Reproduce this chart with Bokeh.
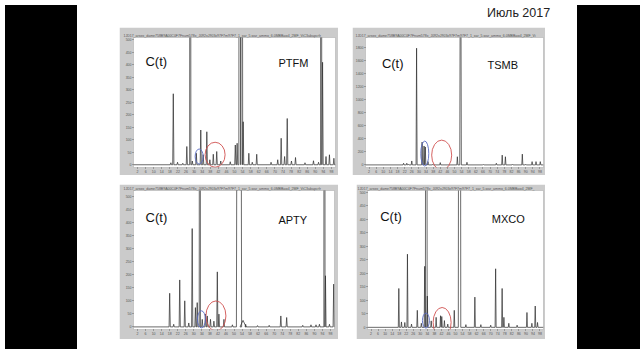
from bokeh.plotting import figure
from bokeh.layouts import row, column
from bokeh.models import Div, Spacer, Label, FixedTicker
from bokeh.embed import file_html
from bokeh.resources import INLINE

OFF = 5000  # off-scale peaks

# ---- PTFM (top left) ----
ptfm_rt = [18.5, 19.7, 21.8, 24.4, 26.4, 28.1, 29.1, 31.1, 33.3, 34.5, 36.3, 37.8, 39.5, 41.2, 43.2,
           47.9, 50.4, 51.3, 52.6, 53.6, 54.3, 57.1, 58.8, 61.0, 68.1, 71.4, 73.1, 74.8, 76.1,
           78.2, 80.2, 84.9, 89.1, 91.6, 92.9, 93.6, 95.3, 97.0, 99.2]
ptfm_h = [8, 284, 10, 6, 73, OFF, 15, 46, 139, 40, 132, 20, 42, 53, 15,
          12, 79, 86, OFF, OFF, 172, 46, 10, 42, 10, 20, 106, 33, 185,
          15, 29, 8, 16, 10, OFF, 410, 33, 40, 26]
ptfm_w = [0.3] * len(ptfm_rt)
ptfm_w[ptfm_rt.index(52.6)] = 0.45
ptfm_w[ptfm_rt.index(53.6)] = 0.45
ptfm_yticks = [0, 50, 100, 150, 200, 250, 300, 350, 400, 450, 500]

# ---- TSMB (top right) ----
tsmb_rt = [21.4, 23.2, 24.1, 26.0, 28.7, 31.8, 32.9, 33.6, 35.1, 37.8, 42.0, 51.6, 53.4,
           57.0, 66.2, 73.5, 76.8, 78.6, 82.6, 88.1, 90.0, 93.6, 95.8, 98.2]
tsmb_h = [25, 25, 10, 60, 1790, 350, 290, 275, 50, 10, 35, 125, OFF,
          40, 8, 25, 150, 125, 10, 165, 10, 50, 50, 50]
tsmb_w = [0.3] * len(tsmb_rt)
tsmb_w[tsmb_rt.index(53.4)] = 0.45
tsmb_yticks = [0, 200, 400, 600, 800, 1000, 1200, 1400, 1600, 1800]

# ---- APTY (bottom left) ----
apty_rt = [18.0, 20.0, 23.0, 25.5, 27.5, 29.2, 30.8, 31.7, 33.0, 34.2, 35.8, 36.7, 38.3, 40.0,
           41.7, 42.5, 45.0, 49.2, 52.5, 54.5, 55.8, 61.7, 67.5, 73.3, 76.2, 84.2, 88.3, 90.8,
           92.5, 95.0, 95.5, 97.5, 99.6]
apty_h = [129, 10, 180, 100, 15, 377, 74, 93, OFF, 29, 49, 42, 29, 22,
          211, 49, 29, 8, OFF, 25, 10, 5, 6, 42, 36, 6, 8, 8,
          10, OFF, 196, 10, 164]
apty_w = [0.3] * len(apty_rt)
apty_w[apty_rt.index(52.5)] = 1.3
apty_w[apty_rt.index(54.5)] = 1.5
apty_yticks = [0, 50, 100, 150, 200, 250, 300, 350, 400, 450, 500]

# ---- MXCO (bottom right) ----
mxco_rt = [17.8, 19.3, 21.2, 22.7, 25.0, 28.3, 30.6, 32.5, 33.4, 34.0, 36.2, 39.0, 41.5, 42.2,
           43.7, 45.6, 49.3, 52.3, 55.9, 61.0, 64.4, 70.0, 72.8, 76.5, 77.5, 80.3, 85.0,
           90.6, 93.4, 95.3, 96.6]
mxco_h = [144, 20, 18, 271, 12, 63, 15, 226, OFF, 116, 24, 37, 43, 40,
          25, 12, 63, OFF, 10, 112, 10, 8, 217, 144, 37, 15, 8,
          55, 15, 79, 18]
mxco_w = [0.3] * len(mxco_rt)
mxco_w[mxco_rt.index(33.4)] = 0.5
mxco_w[mxco_rt.index(52.3)] = 0.7
mxco_yticks = [0, 50, 100, 150, 200, 250, 300, 350, 400, 450, 500]

x_ticks = [2, 6, 10, 14, 18, 22, 26, 30, 34, 38, 42, 46, 50, 54, 58, 62, 66, 70, 74, 78, 82, 86, 90, 94, 98]

# highlighted regions: (x, y, w_px, h_px)
ptfm_red = (40.4, 40, 20, 25)
ptfm_blue = (32.5, 33, 8, 15)
tsmb_red = (42.8, 150, 20, 30)
tsmb_blue = (33.3, 174, 8, 25)
apty_red = (41.0, 42, 20, 30)
apty_blue = (33.8, 29, 8, 17)
mxco_red = (42.4, 18, 18, 30)
mxco_blue = (33.2, 25, 7, 15)

FILE_PATH = "1JD17_arezo_dame758B9A00C0F7Fnum578x_J092xJ903x97F7m97F7_1_xar_5.war_ammo_6.0MBBaw4_2MF_ViC3abapcrfr8c4.Ecaurm1.vol"
FONT = "Liberation Sans"
FRAME = "#cbcbcb"
RED = "#d0504f"
BLUE = "#5a6cc4"


def trace(rt, h, w):
    pts = sorted(zip(rt, h, w))
    xs, ys = [0.0], [0.0]
    for x, hh, ww in pts:
        xs += [x - ww, x, x + ww]
        ys += [0, hh, 0]
    xs.append(100.0)
    ys.append(0.0)
    return xs, ys


def panel(name, rt, h, w, yticks, yr, red, blue, borders, size, lab, nchar):
    bl, br, bt, bb = borders
    p = figure(width=size[0], height=size[1], output_backend="svg", toolbar_location=None,
               x_range=(0, 100), y_range=yr,
               min_border_left=bl, min_border_right=br, min_border_top=bt, min_border_bottom=bb,
               background_fill_color="white", border_fill_color=FRAME,
               outline_line_color="#9a9a9a", outline_line_width=0.5,
               title=FILE_PATH[:nchar])
    p.title.text_font_size = "3.5px"
    p.title.text_font = FONT
    p.title.text_font_style = "normal"
    p.title.text_color = "#555555"
    p.title.standoff = 0
    p.title.offset = -10
    p.grid.visible = False
    for ax in (p.xaxis[0], p.yaxis[0]):
        ax.axis_line_color = None
        ax.major_tick_line_color = "#666666"
        ax.major_tick_out = 1
        ax.major_tick_in = 0
        ax.minor_tick_line_color = None
        ax.major_label_text_font_size = "3.5px"
        ax.major_label_text_font = FONT
        ax.major_label_text_color = "#555555"
        ax.major_label_standoff = 1
    p.xaxis[0].ticker = FixedTicker(ticks=x_ticks)
    p.yaxis[0].ticker = FixedTicker(ticks=yticks)
    xs, ys = trace(rt, h, w)
    p.line(xs, ys, line_color="#2b2b2b", line_width=0.7)
    p.ellipse(x=[red[0]], y=[red[1]], width=red[2], height=red[3],
              width_units="screen", height_units="screen",
              fill_color=None, line_color=RED, line_width=0.9)
    p.ellipse(x=[blue[0]], y=[blue[1]], width=blue[2], height=blue[3],
              width_units="screen", height_units="screen",
              fill_color=None, line_color=BLUE, line_width=0.9)
    p.add_layout(Label(x=lab[0], y=lab[1], text="C(t)", text_font=FONT, text_font_size="13px",
                       text_color="#111111", text_baseline="middle"))
    p.add_layout(Label(x=lab[2], y=lab[3], text=name, text_font=FONT, text_font_size="11px",
                       text_color="#111111", text_baseline="middle"))
    return p


tl = panel("PTFM", ptfm_rt, ptfm_h, ptfm_w, ptfm_yticks, (-11, 509), ptfm_red, ptfm_blue,
           (14, 3, 10, 7), (219, 148), (5.9, 414, 71.8, 408), 100)
tr = panel("TSMB", tsmb_rt, tsmb_h, tsmb_w, tsmb_yticks, (-40, 1954), tsmb_red, tsmb_blue,
           (8, 2, 8, 7), (193, 148), (9.2, 1549, 68.5, 1534), 90)
bl = panel("APTY", apty_rt, apty_h, apty_w, apty_yticks, (-10, 523), apty_red, apty_blue,
           (14, 4, 6, 10), (219, 155), (6.0, 419, 72.1, 410), 100)
br = panel("MXCO", mxco_rt, mxco_h, mxco_w, mxco_yticks, (-8, 507), mxco_red, mxco_blue,
           (8, 2, 6, 8), (189, 155), (7.2, 409, 70.6, 400), 88)

title = Div(text="Июль 2017", width=80, height=17,
            styles={"font-size": "12.5px", "font-family": FONT, "line-height": "17px",
                    "color": "#222222", "white-space": "nowrap"})
header = row(Spacer(width=400, height=17), title)
row1 = row(Spacer(width=37, height=148), tl, Spacer(width=14, height=148), tr, Spacer(width=17, height=148))
row2 = row(Spacer(width=37, height=155), bl, Spacer(width=18, height=155), br, Spacer(width=17, height=155))
slide = column(header, row1, Spacer(width=480, height=9), row2, Spacer(width=480, height=15))

left_bar = Div(text="", width=72, height=344, styles={"background-color": "black"})
right_bar = Div(text="", width=72, height=344, styles={"background-color": "black"})
page = row(left_bar, slide, right_bar)

open("out.html", "w").write(file_html(page, INLINE))
